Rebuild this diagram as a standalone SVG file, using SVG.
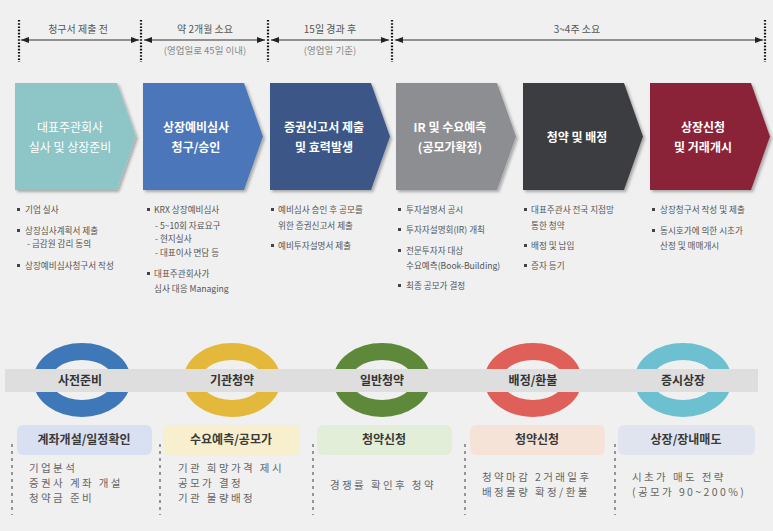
<svg xmlns="http://www.w3.org/2000/svg" width="773" height="531" viewBox="0 0 773 531">
<defs>
<marker id="ah" viewBox="0 0 8 6" refX="8" refY="3" markerWidth="8" markerHeight="6" markerUnits="userSpaceOnUse" orient="auto-start-reverse"><path d="M0,0 L8,3 L0,6 Z" fill="#222"/></marker>
<filter id="sh" x="-10%" y="-10%" width="130%" height="130%"><feDropShadow dx="2" dy="2" stdDeviation="1.5" flood-color="#000" flood-opacity="0.3"/></filter>
<style>
text{font-family:"Noto Sans CJK KR","Noto Sans",sans-serif}
.tl{font-size:10px;fill:#555;text-anchor:middle}
.ts{font-size:9.5px;fill:#888;text-anchor:middle}
.vd{stroke:#111;stroke-width:2.2;stroke-dasharray:1.6 1.6}
.ar{stroke:#333;stroke-width:1;marker-start:url(#ah);marker-end:url(#ah)}
.cv{filter:url(#sh)}
.ct{font-size:12px;fill:#fff;text-anchor:middle;font-weight:bold}
.bl{font-size:8.6px;fill:#555}
.bu{fill:#444}
.band{fill:#dedede}
.ring{fill:none;stroke-width:17}
.rt{font-size:12px;font-weight:bold;fill:#333;text-anchor:middle}
.bx{font-size:12px;font-weight:bold;fill:#3a3a3a;text-anchor:middle}
.ds{font-size:10.5px;fill:#666;letter-spacing:2.4px}
.sep{stroke:#777;stroke-width:1.5;stroke-dasharray:3 4}
</style>
</defs>
<rect width="773" height="531" fill="#f0f0f0"/>

<g id="timeline">
<line class="vd" x1="19" y1="20" x2="19" y2="62"/>
<line class="vd" x1="141" y1="20" x2="141" y2="62"/>
<line class="vd" x1="268" y1="20" x2="268" y2="62"/>
<line class="vd" x1="392" y1="20" x2="392" y2="62"/>
<line class="vd" x1="765" y1="20" x2="765" y2="62"/>
<line class="ar" x1="21" y1="40" x2="139" y2="40"/>
<line class="ar" x1="144" y1="40" x2="265" y2="40"/>
<line class="ar" x1="271" y1="40" x2="389" y2="40"/>
<line class="ar" x1="395" y1="40" x2="763" y2="40"/>
<text class="tl" x="78" y="33">청구서 제출 전</text>
<text class="tl" x="205" y="33">약 2개월 소요</text>
<text class="ts" x="205" y="54">(영업일로 45일 이내)</text>
<text class="tl" x="330" y="33">15일 경과 후</text>
<text class="ts" x="330" y="54">(영업일 기준)</text>
<text class="tl" x="577" y="33">3~4주 소요</text>
</g>

<g id="step1">
<path class="cv" d="M15,83 H117 L136,136.5 L117,190 H15 Z" fill="#8ec5c6"/>
<text class="ct" x="70" y="132" style="font-weight:normal">대표주관회사</text>
<text class="ct" x="70" y="152" style="font-weight:normal">실사 및 상장준비</text>
<rect class="bu" x="17" y="208" width="3" height="3"/><text class="bl" x="25" y="213">기업 실사</text>
<rect class="bu" x="17" y="229" width="3" height="3"/><text class="bl" x="25" y="234">상장심사계획서 제출</text>
<text class="bl" x="27" y="247">- 금감원 감리 동의</text>
<rect class="bu" x="17" y="264" width="3" height="3"/><text class="bl" x="25" y="269">상장예비심사청구서 작성</text>
</g>

<g id="step2">
<path class="cv" d="M143,83 H244 L263,136.5 L244,190 H143 Z" fill="#4c76b9"/>
<text class="ct" x="196" y="132">상장예비심사</text>
<text class="ct" x="196" y="152">청구/승인</text>
<rect class="bu" x="147" y="208" width="3" height="3"/><text class="bl" x="154" y="213">KRX 상장예비심사</text>
<text class="bl" x="155" y="229">- 5~10회 자료요구</text>
<text class="bl" x="155" y="242">- 현지실사</text>
<text class="bl" x="155" y="256">- 대표이사 면담 등</text>
<rect class="bu" x="147" y="272" width="3" height="3"/><text class="bl" x="154" y="277">대표주관회사가</text>
<text class="bl" x="154" y="292">심사 대응  Managing</text>
</g>

<g id="step3">
<path class="cv" d="M270,83 H371 L390,136.5 L371,190 H270 Z" fill="#3b5787"/>
<text class="ct" x="324" y="132">증권신고서 제출</text>
<text class="ct" x="324" y="152">및 효력발생</text>
<rect class="bu" x="271" y="208" width="3" height="3"/><text class="bl" x="278" y="213">예비심사 승인 후 공모를</text>
<text class="bl" x="278" y="229">위한 증권신고서 제출</text>
<rect class="bu" x="271" y="244" width="3" height="3"/><text class="bl" x="278" y="249">예비투자설명서 제출</text>
</g>

<g id="step4">
<path class="cv" d="M396,83 H497 L516,136.5 L497,190 H396 Z" fill="#8d8e92"/>
<text class="ct" x="450" y="132">IR 및 수요예측</text>
<text class="ct" x="450" y="152">(공모가확정)</text>
<rect class="bu" x="398" y="208" width="3" height="3"/><text class="bl" x="406" y="213">투자설명서 공시</text>
<rect class="bu" x="398" y="228" width="3" height="3"/><text class="bl" x="406" y="233">투자자설명회(IR) 개최</text>
<rect class="bu" x="398" y="249" width="3" height="3"/><text class="bl" x="406" y="254">전문투자자 대상</text>
<text class="bl" x="406" y="269">수요예측(Book-Building)</text>
<rect class="bu" x="398" y="284" width="3" height="3"/><text class="bl" x="406" y="289">최종 공모가 결정</text>
</g>

<g id="step5">
<path class="cv" d="M523,83 H624 L643,136.5 L624,190 H523 Z" fill="#3b3c40"/>
<text class="ct" x="577" y="142">청약 및 배정</text>
<rect class="bu" x="524" y="208" width="3" height="3"/><text class="bl" x="531" y="213">대표주관사 전국 지점망</text>
<text class="bl" x="531" y="229">통한 청약</text>
<rect class="bu" x="524" y="244" width="3" height="3"/><text class="bl" x="531" y="249">배정 및 납입</text>
<rect class="bu" x="524" y="264" width="3" height="3"/><text class="bl" x="531" y="269">증자 등기</text>
</g>

<g id="step6">
<path class="cv" d="M650,83 H751 L770,136.5 L751,190 H650 Z" fill="#8a2339"/>
<text class="ct" x="703" y="132">상장신청</text>
<text class="ct" x="703" y="152">및 거래개시</text>
<rect class="bu" x="652" y="208" width="3" height="3"/><text class="bl" x="660" y="213">상장청구서 작성 및 제출</text>
<rect class="bu" x="652" y="229" width="3" height="3"/><text class="bl" x="660" y="234">동시호가에 의한 시초가</text>
<text class="bl" x="660" y="249">산정 및 매매개시</text>
</g>

<g id="rings">
<ellipse class="ring" cx="82" cy="380" rx="40" ry="28.5" stroke="#3e78b8"/>
<ellipse class="ring" cx="232" cy="380" rx="40" ry="28.5" stroke="#e4b83b"/>
<ellipse class="ring" cx="382" cy="380" rx="40" ry="28.5" stroke="#5e893b"/>
<ellipse class="ring" cx="533" cy="380" rx="40" ry="28.5" stroke="#df5f59"/>
<ellipse class="ring" cx="683" cy="380" rx="40" ry="28.5" stroke="#6cc0d0"/>
<rect class="band" x="5" y="369" width="753" height="23"/>
</g>

<g id="stage1">
<text class="rt" x="80" y="385">사전준비</text>
<rect x="17" y="425" width="135" height="30" rx="6" fill="#d9e0f1"/>
<text class="bx" x="84" y="444">계좌개설/일정확인</text>
<line class="sep" x1="12" y1="444" x2="12" y2="515"/>
<text class="ds" x="29" y="472">기업분석</text>
<text class="ds" x="29" y="487">증권사 계좌 개설</text>
<text class="ds" x="29" y="502">청약금 준비</text>
</g>

<g id="stage2">
<text class="rt" x="232" y="385">기관청약</text>
<rect x="163" y="425" width="137" height="30" rx="6" fill="#f8efcf"/>
<text class="bx" x="231" y="444">수요예측/공모가</text>
<line class="sep" x1="160" y1="444" x2="160" y2="515"/>
<text class="ds" x="178" y="472">기관 희망가격 제시</text>
<text class="ds" x="178" y="487">공모가 결정</text>
<text class="ds" x="178" y="502">기관 물량배정</text>
</g>

<g id="stage3">
<text class="rt" x="382" y="385">일반청약</text>
<rect x="317" y="425" width="135" height="30" rx="6" fill="#e3eed8"/>
<text class="bx" x="384" y="444">청약신청</text>
<line class="sep" x1="313" y1="444" x2="313" y2="515"/>
<text class="ds" x="330" y="489">경쟁률 확인후 청약</text>
</g>

<g id="stage4">
<text class="rt" x="533" y="385">배정/환불</text>
<rect x="470" y="425" width="135" height="30" rx="6" fill="#f5e3d8"/>
<text class="bx" x="537" y="444">청약신청</text>
<line class="sep" x1="465" y1="444" x2="465" y2="515"/>
<text class="ds" x="482" y="481">청약마감 2거래일후</text>
<text class="ds" x="482" y="496">배정물량 확정/환불</text>
</g>

<g id="stage5">
<text class="rt" x="683" y="385">증시상장</text>
<rect x="618" y="425" width="137" height="30" rx="6" fill="#dfe4ee"/>
<text class="bx" x="686" y="444">상장/장내매도</text>
<line class="sep" x1="615" y1="444" x2="615" y2="515"/>
<text class="ds" x="632" y="481">시초가 매도 전략</text>
<text class="ds" x="632" y="496">(공모가 90~200%)</text>
</g>
</svg>
